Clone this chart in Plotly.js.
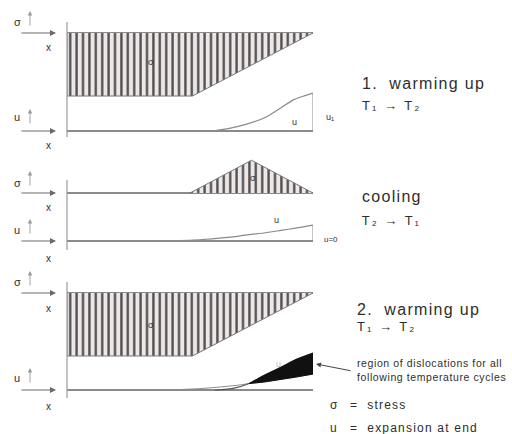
<!DOCTYPE html>
<html>
<head>
<meta charset="utf-8">
<script src="https://cdn.plot.ly/plotly-3.0.1.min.js"></script>
<style>
  html, body { margin: 0; padding: 0; background: #ffffff; }
  #chart { width: 512px; height: 434px; }
</style>
</head>
<body>
<div id="chart"></div>
<script>
// Position along the bar: 0 = clamped end, 1 = free end.
// Stress profiles (negative = below the zero line).
const stressPos = [0, 0.51, 1];
const stressWarm1 = [-1, -1, 0];
const stressWarm2 = [-1, -1, 0];
const coolPos = [0.5, 0.75, 1];
const stressCool = [0, 0.52, 0];

// Expansion profiles u(x).
const warm1Pos = [0.59, 0.66, 0.73, 0.81, 0.87, 0.92, 1.0];
const uWarm1 = [0, 0.07, 0.18, 0.37, 0.61, 0.82, 1.0];

const coolUPos = [0.41, 0.55, 0.7, 0.74, 0.8, 0.87, 0.93, 1.0];
const uCool = [0, 0.04, 0.13, 0.17, 0.21, 0.28, 0.34, 0.42];

const warm2Pos = [0.6, 0.68, 0.74, 0.8, 0.87, 0.93, 1.0];
const uWarm2 = [0, 0.05, 0.17, 0.38, 0.6, 0.8, 0.97];
const dislocStart = 0.74;

const stageTitles = ['1.  warming up', 'cooling', '2.  warming up'];
const stageTemps = ['T\u2081 \u2192 T\u2082', 'T\u2082 \u2192 T\u2081', 'T\u2081 \u2192 T\u2082'];
const dislocNote = ['region of dislocations for all', 'following temperature cycles'];
const legendSymbols = ['\u03c3', 'u'];
const legendTexts = ['=  stress', '=  expansion at end'];

// ---- page geometry (pixels) ----
const W = 512, H = 434;
const px = x => x / W;
const py = y => 1 - y / H;
const FONT = 'Liberation Sans, Arial, sans-serif';
const INK = '#2e2e2e';
const LINE = '#8a8a8a';

const barLeft = 67, barRight = 313;
const SIGMA_PX = 63;   // pixels per unit stress
const U_PX = 38;       // pixels per unit expansion

// each panel: zero-line pixel row, pixels per unit, value window
const panels = [
  { zero: 33,  unit: SIGMA_PX, lo: -1.2, hi: 0.2 },   // stress, warming 1
  { zero: 131, unit: U_PX,     lo: -0.1, hi: 1.1 },   // expansion, warming 1
  { zero: 193, unit: SIGMA_PX, lo: -0.1, hi: 0.65 },  // stress, cooling
  { zero: 241, unit: U_PX,     lo: -0.1, hi: 0.6 },   // expansion, cooling
  { zero: 293, unit: SIGMA_PX, lo: -1.2, hi: 0.2 },   // stress, warming 2
  { zero: 390, unit: U_PX,     lo: -0.1, hi: 1.1 }    // expansion, warming 2
];

const layout = {
  width: W, height: H,
  margin: { l: 0, r: 0, t: 0, b: 0 },
  paper_bgcolor: '#ffffff',
  plot_bgcolor: 'rgba(0,0,0,0)',
  showlegend: false,
  font: { family: FONT, color: INK },
  shapes: [],
  annotations: []
};

panels.forEach((p, i) => {
  const n = i === 0 ? '' : String(i + 1);
  const top = p.zero - p.hi * p.unit;
  const bottom = p.zero - p.lo * p.unit;
  layout['xaxis' + n] = {
    domain: [px(barLeft), px(barRight)], range: [0, 1],
    anchor: 'y' + n, visible: true,
    showgrid: false, zeroline: false, showline: false,
    showticklabels: false, ticks: '', fixedrange: true
  };
  layout['yaxis' + n] = {
    domain: [py(bottom), py(top)], range: [p.lo, p.hi],
    anchor: 'x' + n,
    showgrid: false, showline: false, showticklabels: false, ticks: '',
    zeroline: true, zerolinecolor: LINE,
    zerolinewidth: (i % 2 === 1) ? 2 : 1.4,
    fixedrange: true
  };
});

const hatch = {
  shape: '|', size: 6.4, solidity: 0.36,
  fgcolor: '#4e4e4e', bgcolor: '#eee7e8', fillmode: 'replace'
};

function stressTrace(pos, vals, n, closeAtZero) {
  const x = closeAtZero ? [0].concat(pos) : pos.slice();
  const y = closeAtZero ? [0].concat(vals) : vals.slice();
  return {
    type: 'scatter', mode: 'lines', x: x, y: y,
    fill: 'toself', fillpattern: hatch, fillcolor: '#eee7e8',
    line: { color: '#777777', width: 1 },
    xaxis: 'x' + n, yaxis: 'y' + n, hoverinfo: 'skip'
  };
}

function curveTrace(pos, vals, n, color, width) {
  return {
    type: 'scatter', mode: 'lines', x: pos, y: vals,
    line: { color: color, width: width, shape: 'spline', smoothing: 0.7 },
    xaxis: 'x' + n, yaxis: 'y' + n, hoverinfo: 'skip'
  };
}

function endTrace(vals, n) {
  return {
    type: 'scatter', mode: 'lines', x: [1, 1], y: [vals[vals.length - 1], 0],
    line: { color: LINE, width: 1 },
    xaxis: 'x' + n, yaxis: 'y' + n, hoverinfo: 'skip'
  };
}

// black band between the second warming curve and the residual expansion
const upperIdx = warm2Pos.map((s, k) => k).filter(k => warm2Pos[k] >= dislocStart);
const lowerIdx = coolUPos.map((s, k) => k).filter(k => coolUPos[k] >= dislocStart).reverse();
const dislocTrace = {
  type: 'scatter', mode: 'lines',
  x: upperIdx.map(k => warm2Pos[k]).concat(lowerIdx.map(k => coolUPos[k])),
  y: upperIdx.map(k => uWarm2[k]).concat(lowerIdx.map(k => uCool[k])),
  fill: 'toself', fillcolor: '#111111',
  line: { color: '#111111', width: 1 },
  xaxis: 'x6', yaxis: 'y6', hoverinfo: 'skip'
};

const data = [
  stressTrace(stressPos, stressWarm1, '', true),
  curveTrace(warm1Pos, uWarm1, '2', LINE, 1.2),
  endTrace(uWarm1, '2'),
  stressTrace(coolPos, stressCool, '3', false),
  curveTrace(coolUPos, uCool, '4', LINE, 1.2),
  endTrace(uCool, '4'),
  stressTrace(stressPos, stressWarm2, '5', true),
  curveTrace(coolUPos, uCool, '6', LINE, 1),
  curveTrace(warm2Pos, uWarm2, '6', '#555555', 1.2),
  dislocTrace
];

// left frame line of each stage
[[22, 137], [180, 250], [282, 398]].forEach(([a, b]) => {
  layout.shapes.push({
    type: 'line', xref: 'paper', yref: 'paper',
    x0: px(barLeft), x1: px(barLeft), y0: py(a), y1: py(b),
    line: { color: '#9a9a9a', width: 1.2 }
  });
});

// letter spacing per text group, applied once the SVG text exists
const spacing = [];

function txt(x, y, text, size, opts, track) {
  layout.annotations.push(Object.assign({
    xref: 'paper', yref: 'paper', x: px(x), y: py(y),
    text: text, showarrow: false, xanchor: 'left', yanchor: 'middle',
    font: { family: FONT, size: size, color: INK }
  }, opts || {}));
  spacing.push(track || 0);
}

function arrow(x0, y0, x1, y1, color, width) {
  layout.annotations.push({
    xref: 'paper', yref: 'paper', x: px(x1), y: py(y1),
    ax: x0 - x1, ay: y0 - y1, axref: 'pixel', ayref: 'pixel',
    text: '', showarrow: true, arrowhead: 2, arrowsize: 1,
    arrowwidth: width, arrowcolor: color, standoff: 0
  });
  spacing.push(0);
}

// coordinate crosses at the left of each diagram
const crosses = [
  { row: 33,  sym: '\u03c3', symY: 22,  xY: 47 },
  { row: 131, sym: 'u',      symY: 117, xY: 145 },
  { row: 193, sym: '\u03c3', symY: 183, xY: 208 },
  { row: 241, sym: 'u',      symY: 230, xY: 258 },
  { row: 293, sym: '\u03c3', symY: 282, xY: 308 },
  { row: 390, sym: 'u',      symY: 378, xY: 406 }
];
crosses.forEach(c => {
  arrow(20, c.row, 56, c.row, '#6a6a6a', 1.2);
  arrow(30, c.row - 6, 30, c.row - 22, '#9a9a9a', 0.9);
  txt(12, c.symY, c.sym, 11);
  txt(44, c.xY, 'x', 10);
});

// labels inside the diagrams
txt(146, 62, '\u03c3', 9);
txt(290, 122, 'u', 9);
txt(324, 117, 'u\u2081', 9);
txt(248, 178, '\u03c3', 9);
txt(272, 220, 'u', 9);
txt(322, 239, 'u=0', 8);
txt(146, 325, '\u03c3', 9);
txt(274, 364, 'u', 9, { font: { family: FONT, size: 9, color: '#bbbbbb' } });

// stage titles on the right
txt(360, 83, stageTitles[0], 16, null, 1.3);
txt(360, 105, stageTemps[0], 13, null, 2);
txt(360, 196, stageTitles[1], 16, null, 1.3);
txt(360, 220, stageTemps[1], 13, null, 2);
txt(355, 309, stageTitles[2], 16, null, 1.3);
txt(355, 326, stageTemps[2], 13, null, 2);

// note on the dislocation region
arrow(352, 371, 316, 364, '#444444', 1);
txt(355, 363, dislocNote[0], 10.5, null, 0.6);
txt(355, 377, dislocNote[1], 10.5, null, 0.6);

// key
txt(328, 405, legendSymbols[0], 12);
txt(348, 405, legendTexts[0], 12, null, 1.2);
txt(328, 428, legendSymbols[1], 12);
txt(348, 428, legendTexts[1], 12, null, 1.2);

Plotly.newPlot('chart', data, layout, { staticPlot: true, displayModeBar: false }).then(gd => {
  gd.querySelectorAll('.annotation').forEach((g, k) => {
    const t = g.querySelector('.annotation-text');
    if (!t || !spacing[k]) return;
    // widen the text, then keep its left edge where it was anchored
    const before = t.getBBox().width;
    t.style.letterSpacing = spacing[k] + 'px';
    const after = t.getBBox().width;
    const x0 = parseFloat(t.getAttribute('x')) || 0;
    t.setAttribute('x', x0 + (after - before) / 2);
  });
});
</script>
</body>
</html>
